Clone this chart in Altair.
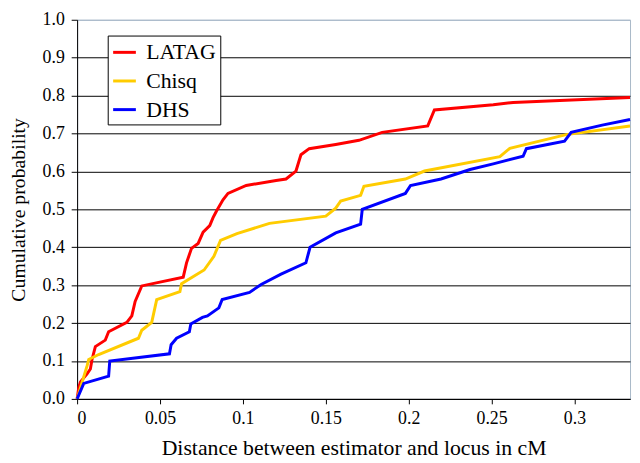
import altair as alt
import pandas as pd

series_names = ["LATAG", "Chisq", "DHS"]
series_colors = ["#FF0000", "#FFCC00", "#0000FF"]

latag_x = [0, 0.001, 0.002, 0.006, 0.008, 0.009, 0.011, 0.017, 0.019, 0.030, 0.033, 0.035,
           0.039, 0.064, 0.066, 0.069, 0.073, 0.076, 0.080, 0.082, 0.084, 0.088, 0.091,
           0.102, 0.120, 0.126, 0.132, 0.135, 0.140, 0.156, 0.170, 0.184, 0.2115, 0.2155,
           0.251, 0.263, 0.3335]
latag_y = [0, 0.03, 0.045, 0.066, 0.079, 0.104, 0.138, 0.155, 0.177, 0.202, 0.219, 0.257,
           0.298, 0.321, 0.359, 0.397, 0.41, 0.44, 0.457, 0.478, 0.495, 0.525, 0.542,
           0.563, 0.576, 0.58, 0.601, 0.644, 0.66, 0.671, 0.682, 0.703, 0.72, 0.762,
           0.776, 0.782, 0.795]

chisq_x = [0, 0.006, 0.007, 0.013, 0.037, 0.039, 0.045, 0.048, 0.062, 0.063, 0.0766,
           0.0825, 0.0865, 0.0964, 0.116, 0.15, 0.156, 0.159, 0.171, 0.173, 0.198,
           0.2095, 0.255, 0.261, 0.295, 0.3335]
chisq_y = [0, 0.087, 0.104, 0.117, 0.16, 0.181, 0.202, 0.262, 0.283, 0.304, 0.34,
           0.376, 0.418, 0.436, 0.463, 0.482, 0.503, 0.522, 0.537, 0.561, 0.58,
           0.601, 0.639, 0.661, 0.697, 0.72]

dhs_x = [0, 0.004, 0.019, 0.0197, 0.0557, 0.0567, 0.060, 0.0677, 0.0686, 0.0756, 0.0786,
         0.0855, 0.0875, 0.104, 0.111, 0.123, 0.138, 0.1405, 0.156, 0.171, 0.172, 0.198,
         0.2011, 0.2195, 0.237, 0.251, 0.269, 0.271, 0.294, 0.298, 0.3167, 0.3335]
dhs_y = [0, 0.041, 0.06, 0.1, 0.119, 0.143, 0.16, 0.177, 0.198, 0.215, 0.219,
         0.24, 0.262, 0.281, 0.302, 0.329, 0.359, 0.4, 0.438, 0.461, 0.5, 0.542,
         0.563, 0.58, 0.605, 0.62, 0.64, 0.66, 0.68, 0.703, 0.722, 0.737]

x_ticks = [0, 0.05, 0.1, 0.15, 0.2, 0.25, 0.3]
y_ticks = [0, 0.1, 0.2, 0.3, 0.4, 0.5, 0.6, 0.7, 0.8, 0.9, 1.0]

frames = []
for name, xs, ys in zip(series_names, [latag_x, chisq_x, dhs_x], [latag_y, chisq_y, dhs_y]):
    frames.append(pd.DataFrame({"x": xs, "y": ys, "series": name, "i": range(len(xs))}))
df = pd.concat(frames, ignore_index=True)

FONT = "Liberation Serif"

color = alt.Color(
    "series:N",
    scale=alt.Scale(domain=series_names, range=series_colors),
    legend=alt.Legend(
        title=None, orient="none", legendX=31, legendY=16,
        strokeColor="black", fillColor="white", padding=4,
        symbolType="stroke", symbolSize=529, symbolStrokeWidth=3,
        labelFont=FONT, labelFontSize=22, labelColor="black", labelOffset=9,
        rowPadding=5,
    ),
)

x_enc = alt.X("x:Q", scale=alt.Scale(domain=[0, 0.3335], nice=False, zero=False),
              axis=alt.Axis(values=x_ticks, format="~g", grid=False,
                            title="Distance between estimator and locus in cM",
                            labelFont=FONT, titleFont=FONT, titleFontSize=22,
                            tickSize=5, labelPadding=6, titlePadding=10))
y_enc = alt.Y("y:Q", scale=alt.Scale(domain=[0, 1], nice=False),
              axis=alt.Axis(values=y_ticks, format=".1f", grid=True,
                            gridColor={"condition": {"test": "datum.value >= 1", "value": "#A8B8C8"},
                                       "value": "black"},
                            title="Cumulative probability",
                            labelFont=FONT, titleFont=FONT, titleFontSize=20,
                            tickSize=6, labelPadding=7, titlePadding=14))

layers = []
for name in series_names:
    layers.append(
        alt.Chart(df).transform_filter(alt.datum.series == name)
        .mark_line(strokeWidth=3)
        .encode(x=x_enc, y=y_enc, color=color, order="i:Q")
    )

chart = alt.layer(*layers).properties(
    width=560, height=384,
    autosize=alt.AutoSizeParams(type="none"),
    padding={"left": 70, "top": 9, "right": 2, "bottom": 62},
).configure(
    font=FONT
).configure_view(
    stroke="#A8B8C8", strokeWidth=1
).configure_axis(
    labelFont=FONT, titleFont=FONT, labelFontSize=18,
    labelColor="black", titleColor="black", titleFontWeight="normal",
    domainColor="black", tickColor="black", gridWidth=1, domainWidth=1,
).configure_legend(
    labelFont=FONT
)

chart.save("out.html", embed_options={"renderer": "svg", "actions": False})
